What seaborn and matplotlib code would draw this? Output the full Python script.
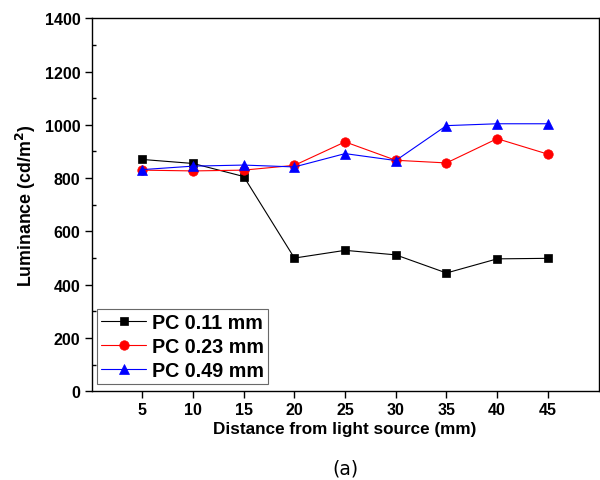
import pandas as pd
import matplotlib
matplotlib.use("Agg")
import matplotlib.pyplot as plt
import seaborn as sns
from matplotlib.ticker import MultipleLocator

# --- data ---
DISTANCE = [5, 10, 15, 20, 25, 30, 35, 40, 45]
PC_011 = [870, 855, 806, 500, 529, 512, 444, 497, 499]
PC_023 = [830, 827, 830, 848, 936, 867, 857, 948, 890]
PC_049 = [832, 845, 849, 842, 892, 866, 997, 1004, 1004]
SERIES = ["PC 0.11 mm", "PC 0.23 mm", "PC 0.49 mm"]
COLORS = {"PC 0.11 mm": "black", "PC 0.23 mm": "red", "PC 0.49 mm": "blue"}
MARKERS = {"PC 0.11 mm": "s", "PC 0.23 mm": "o", "PC 0.49 mm": "^"}
MARKER_SIZES = {"s": 5.8, "o": 6.8, "^": 7.5}
OUTPUT_CHART = "out.png"


def build_frame():
    rows = []
    for name, vals in zip(SERIES, [PC_011, PC_023, PC_049]):
        for d, v in zip(DISTANCE, vals):
            rows.append({"Distance": d, "Luminance": v, "Series": name})
    return pd.DataFrame(rows)


def style_markers(lines):
    # seaborn gives white marker edges; the reference has solid markers
    for line in lines:
        line.set_markeredgecolor(line.get_color())
        line.set_markeredgewidth(0.5)
        m = line.get_marker()
        if m in MARKER_SIZES:
            line.set_markersize(MARKER_SIZES[m])


def generate_chart(df):
    sns.set_style("ticks")
    plt.rcParams["font.family"] = ["Liberation Sans", "DejaVu Sans"]
    plt.rcParams["font.weight"] = "bold"

    fig = plt.figure(figsize=(6.0, 4.81), dpi=100)
    ax = fig.add_axes([0.1528, 0.1844, 0.8447, 0.7756])

    sns.lineplot(
        data=df, x="Distance", y="Luminance",
        hue="Series", style="Series", hue_order=SERIES, style_order=SERIES,
        palette=COLORS, markers=MARKERS, dashes=False,
        linewidth=0.8, markersize=7, ax=ax,
    )
    style_markers(ax.lines)

    ax.set_xlim(0, 50)
    ax.set_ylim(0, 1400)
    ax.set_xticks(DISTANCE)
    ax.set_yticks(range(0, 1401, 200))
    ax.yaxis.set_minor_locator(MultipleLocator(100))
    ax.tick_params(axis="both", which="major", direction="out", length=5, width=1,
                   labelsize=11.5, pad=3, color="black", labelcolor="black")
    ax.tick_params(axis="y", which="minor", direction="in", length=3, width=1, color="black")
    for lab in ax.get_xticklabels() + ax.get_yticklabels():
        lab.set_fontweight("bold")
    for sp in ax.spines.values():
        sp.set_visible(True)
        sp.set_linewidth(1.0)
        sp.set_color("black")

    ax.set_xlabel("Distance from light source (mm)", fontsize=12.3, fontweight="bold",
                  labelpad=2.5, color="black")
    ax.set_ylabel("Luminance (cd/m$^\\mathbf{2}$)", fontsize=12.8, fontweight="bold",
                  labelpad=5, color="black")

    handles, labels = ax.get_legend_handles_labels()
    leg = ax.legend(handles, labels, loc="lower left", bbox_to_anchor=(0.0105, 0.0196),
                    borderaxespad=0, frameon=True, fancybox=False,
                    labelspacing=0.25, handlelength=2.3, handletextpad=0.3,
                    borderpad=0.2, prop={"weight": "bold", "size": 14.2})
    leg.get_frame().set_edgecolor("#444444")
    leg.get_frame().set_linewidth(0.8)
    style_markers(leg.get_lines())
    for t in leg.get_texts():
        t.set_color("black")

    fig.text(0.575, 0.025, "(a)", ha="center", va="center", fontsize=13.5,
             family=["DejaVu Sans"], fontweight="normal", color="black")

    fig.savefig(OUTPUT_CHART, dpi=100)
    plt.close(fig)


def main():
    df = build_frame()
    generate_chart(df)


if __name__ == "__main__":
    main()
